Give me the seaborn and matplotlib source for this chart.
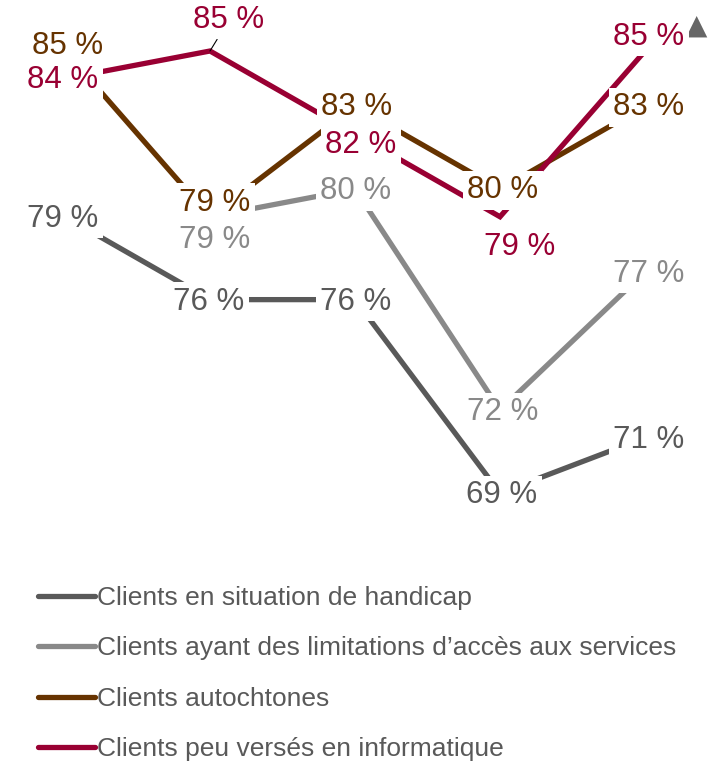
import numpy as np
import pandas as pd
import matplotlib
matplotlib.use("Agg")
import matplotlib.pyplot as plt
import seaborn as sns

# ---- data ----
periods = [1, 2, 3, 4, 5]
series_names = [
    "Clients en situation de handicap",
    "Clients ayant des limitations d’accès aux services",
    "Clients autochtones",
    "Clients peu versés en informatique",
]
handicap = [79, 76, 76, 69, 71]
limitations = [np.nan, 79, 80, 72, 77]
autochtones = [85, 79, 83, 80, 83]
informatique = [84, 85, 82, 79, 85]

values = [handicap, limitations, autochtones, informatique]
colors = ["#595959", "#898989", "#663300", "#990033"]

# label offsets in pixels (style only)
label_offsets = [
    [(-2, -2), (-1, -2), (1, -2), (2, -2), (4, -2)],
    [None, (5, -23), (1, -2), (3, -2), (4, -2)],
    [(3, 5), (5, 14), (2, -1), (3, -1), (4, -1)],
    [(-2, -1), (19, 31), (6, -11), (20, -30), (4, 14)],
]

rows = []
for name, vals in zip(series_names, values):
    for p, v in zip(periods, vals):
        rows.append({"period": p, "value": v, "series": name})
df = pd.DataFrame(rows)

sns.set_style("white")
plt.rcParams["font.family"] = ["Liberation Sans", "DejaVu Sans"]

W, H = 720, 762
fig = plt.figure(figsize=(W / 100, H / 100), dpi=100)
ax_h_px = 540
ax = fig.add_axes([0, 1 - ax_h_px / H, 1, ax_h_px / H])

palette = dict(zip(series_names, colors))
sns.lineplot(data=df.dropna(), x="period", y="value", hue="series",
             hue_order=series_names, palette=palette, linewidth=3.8,
             estimator=None, sort=False, ax=ax, legend=False, zorder=2)
for ln in ax.get_lines():
    ln.set_solid_capstyle("butt")
    ln.set_solid_joinstyle("miter")

# scale: x index 1 -> 65px, step 145px ; y: 69 -> 493px, 85 -> 51px
px_per_x = 145.0
px_per_y = (493 - 51) / 16.0
x0 = periods[0] - 65 / px_per_x
ax.set_xlim(x0, x0 + W / px_per_x)
top_val = 85 + 51 / px_per_y
ax.set_ylim(top_val - ax_h_px / px_per_y, top_val)

for name, vals, col, offs in zip(series_names, values, colors, label_offsets):
    for p, v, off in zip(periods, vals, offs):
        if off is None or np.isnan(v):
            continue
        kw = {}
        if name == series_names[3] and off == (19, 31):
            kw["arrowprops"] = dict(arrowstyle="-", color="black", lw=0.8,
                                    shrinkA=0, shrinkB=0)
        ax.annotate(f"{int(v)} %", xy=(p, v), xytext=off,
                    textcoords="offset pixels", ha="center", va="center",
                    fontsize=22.5, color=col, zorder=4,
                    bbox=dict(boxstyle="square,pad=0.14", fc="white", ec="none"),
                    **kw)

ax.text(697 / W, 1 - 26 / ax_h_px, "▲", transform=ax.transAxes, ha="center",
        va="center", fontsize=20, color="#666666", family="DejaVu Sans")

ax.set_axis_off()

from matplotlib.lines import Line2D
handles = [Line2D([0], [0], color=c, lw=3.8, solid_capstyle="round") for c in colors]
leg = fig.legend(handles, series_names, loc="upper left",
                 bbox_to_anchor=(38 / W, 1 - 586 / H), frameon=False,
                 fontsize=19, handlelength=2.15, handletextpad=0.08,
                 labelspacing=1.0, borderpad=0, borderaxespad=0)
for t in leg.get_texts():
    t.set_color("#595959")

fig.savefig("out.png", dpi=100)
